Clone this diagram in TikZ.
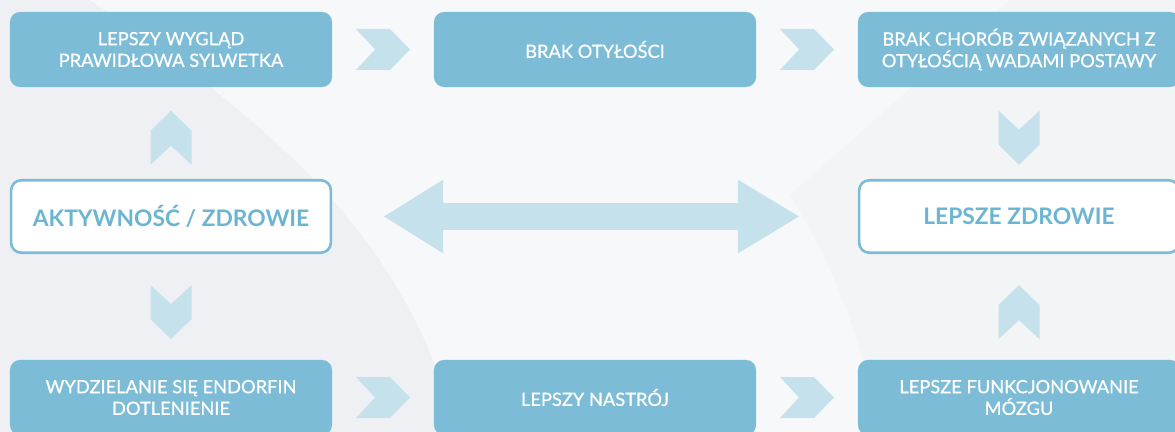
\documentclass[tikz,border=0pt]{standalone}
\usepackage{fontspec}
\setmainfont{Lato}
\newfontfamily\boxfont[FakeBold=0.7]{Lato}
\usetikzlibrary{calc,arrows.meta}
\definecolor{boxblue}{HTML}{7CBCD6}
\definecolor{chevblue}{HTML}{C5E1EB}
\definecolor{titleblue}{HTML}{6CB5D2}
\definecolor{bggray}{HTML}{EFF0F3}
\definecolor{bglight}{HTML}{F7F8F9}
\begin{document}
\begin{tikzpicture}[x=0.025cm,y=-0.025cm,
    box/.style={fill=boxblue,rounded corners=0.25cm,minimum width=8.05cm,minimum height=1.875cm,
        text=white,align=center,font=\boxfont\fontsize{13}{15.4}\selectfont},
    keybox/.style={draw=boxblue,line width=0.065cm,fill=white,rounded corners=0.25cm,
        minimum width=7.99cm,minimum height=1.81cm,text=titleblue,font=\fontsize{16.2}{20}\selectfont\bfseries},
    chev/.pic={\fill[chevblue] (-27,-20.5) -- (7,-20.5) -- (27,0) -- (7,20.5) -- (-27,20.5) -- (-8,0) -- cycle;},
    dblarrow/.style={chevblue,line width=0.65cm,
        {Triangle[length=1.5cm,width=1.725cm]}-{Triangle[length=1.55cm,width=1.725cm]}}]
    \useasboundingbox (0,0) rectangle (1175,432);
    \clip (0,0) rectangle (1175,432);
    % background
    \fill[bggray] (0,0) rectangle (1175,432);
    \fill[bglight] (90,0) .. controls (250,110) and (410,230) .. (455,432) -- (1175,432) -- (1175,0) -- cycle;
    \fill[bggray!50!bglight] (1010,0) -- (790,195) .. controls (830,260) and (860,330) .. (880,432) -- (1175,432) -- (1175,0) -- cycle;
    % boxes
    \node[box] (wyglad) at (171,49.5) {LEPSZY WYGLĄD\\PRAWIDŁOWA SYLWETKA};
    \node[box] (otylosc) at (595,49.5) {BRAK OTYŁOŚCI};
    \node[box] (choroby) at (1019,49.5) {BRAK CHORÓB ZWIĄZANYCH Z\\OTYŁOŚCIĄ WADAMI POSTAWY};
    \node[keybox] (aktywnosc) at (171,216.5) {AKTYWNOŚĆ / ZDROWIE};
    \node[keybox] (zdrowie) at (1019,216.5) {LEPSZE ZDROWIE};
    \node[box] (endorfiny) at (171,397.5) {WYDZIELANIE SIĘ ENDORFIN\\DOTLENIENIE};
    \node[box] (nastroj) at (595,397.5) {LEPSZY NASTRÓJ};
    \node[box] (mozg) at (1019,397.5) {LEPSZE FUNKCJONOWANIE\\MÓZGU};
    % chevrons
    \pic at ($(wyglad.east)!0.5!(otylosc.west)$) {chev};
    \pic at ($(otylosc.east)!0.5!(choroby.west)$) {chev};
    \pic at ($(endorfiny.east)!0.5!(nastroj.west)$) {chev};
    \pic at ($(nastroj.east)!0.5!(mozg.west)$) {chev};
    \pic[rotate=90] at ($(aktywnosc.north)!0.45!(wyglad.south)$) {chev};
    \pic[rotate=-90] at ($(aktywnosc.south)!0.55!(endorfiny.north)$) {chev};
    \pic[rotate=-90] at ($(choroby.south)!0.55!(zdrowie.north)$) {chev};
    \pic[rotate=90] at ($(mozg.north)!0.45!(zdrowie.south)$) {chev};
    \draw[dblarrow] ([xshift=1.275cm]aktywnosc.east) -- ([xshift=-1.45cm]zdrowie.west);
\end{tikzpicture}
\end{document}
